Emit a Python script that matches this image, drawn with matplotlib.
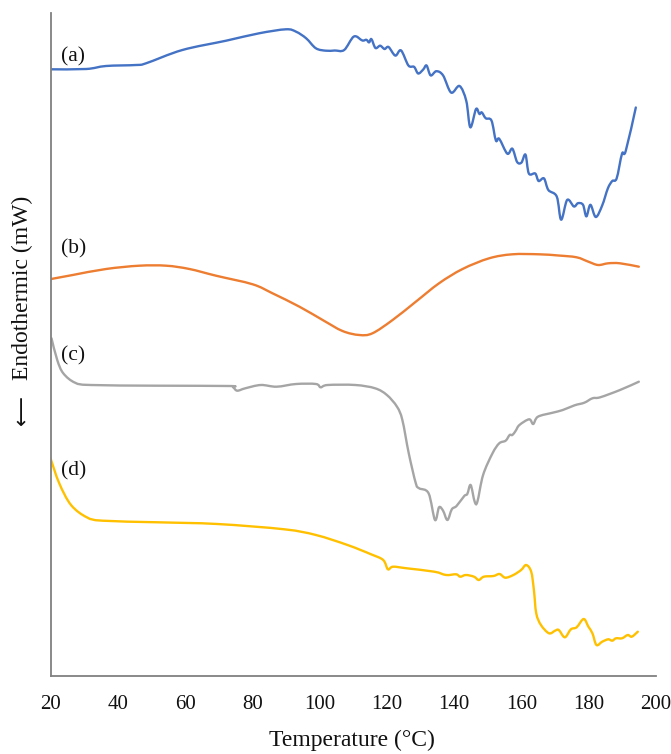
import matplotlib
matplotlib.use("Agg")
import matplotlib.pyplot as plt
import numpy as np
from matplotlib.path import Path
from matplotlib.patches import PathPatch

plt.rcParams['font.family'] = ['Liberation Serif', 'DejaVu Serif']

# DSC traces (stacked, arbitrary offsets in mW), temperature in °C
temp_a = [20, 30.6, 36.5, 45.4, 48.4, 59.2, 72.2, 82, 90, 93, 96, 98.9, 101.9, 104.5, 107.3,
          110.2, 112.7, 113.9, 114.7, 115.4, 116.6, 118, 119.3, 120.5, 122.5, 124.2, 126.4,
          128.1, 129.3, 130.8, 131.8, 133, 134.7, 136.7, 139.1, 141.6, 143.6, 144.8, 146.5,
          147.5, 148.2, 149.4, 151.1, 152.4, 153.4, 155.8, 157.3, 158.7, 160, 161.2, 162.2,
          164.1, 165.1, 166.7, 168, 170.5, 171.8, 173.6, 175.6, 176.8, 178.3, 179.3, 180.5,
          182.1, 184, 185.7, 187, 188.3, 189.9, 191, 194]
heat_a = [606.7, 607, 610, 611, 612.7, 626, 635.3, 642.7, 646.7, 644.3, 637.7, 627.7, 625.3,
          625.5, 626, 639.5, 635.5, 636.2, 633.6, 636.9, 628, 630.3, 627, 629, 620.4, 625.6,
          610.5, 609.1, 602.5, 606.5, 610.5, 600.6, 604.8, 600.6, 583.4, 590, 575.1, 548.7,
          567, 562, 563.6, 557.7, 555.4, 535.5, 537.2, 522.3, 527.3, 514.1, 513.4, 521.4,
          502.5, 502.5, 495, 497.6, 486, 479.4, 456.3, 476.1, 469.5, 472.8, 471.2, 459.6,
          471.2, 459, 470.5, 487.7, 495, 497.6, 522.3, 525, 568.5]

temp_b = [20.2, 26.6, 36.5, 46.4, 54.4, 61.3, 69.2, 80.1, 86, 94, 100.9, 106.8, 111.8, 115.7,
          121.7, 128.6, 135.5, 142.5, 150.4, 157.3, 165.2, 171, 176.4, 179.9, 182.8, 185.8,
          189.3, 194.9]
heat_b = [397, 401, 407, 410.3, 410.3, 407, 400.3, 391.7, 382.7, 369.3, 356, 345, 341, 342.7,
          356, 374.3, 392.7, 407, 417.7, 421.7, 421.7, 420.5, 418.7, 414.3, 411, 412.7, 412.7,
          409.3]

temp_c = [20.3, 22, 23.8, 27.3, 32, 52, 73.1, 74.3, 75.5, 77.9, 82.5, 87.2, 93, 98.9, 100.3,
          102.4, 110.6, 116.5, 120, 123, 124.6, 126.5, 128.6, 129.6, 132.4, 134.3, 135.5,
          136.7, 138, 139.3, 140.7, 143, 143.9, 144.9, 146.1, 146.9, 148.6, 151.4, 153.4,
          155.3, 156.5, 157.3, 158.3, 159.4, 162.3, 163.5, 164.9, 169.3, 172.3, 175.8,
          178.7, 181.1, 183.4, 189.3, 194.9]
heat_c = [337.7, 316, 302.7, 293.3, 291, 290.3, 290, 288.7, 285.3, 287.7, 291, 289.3, 292,
          292, 288.7, 291, 291, 287.7, 281, 269.3, 256, 222.7, 192.7, 187.7, 182.7, 156,
          168.7, 165.3, 156, 166.7, 170, 180, 182, 191, 174.3, 174.3, 201, 222.7, 232.7,
          235.3, 241, 241, 245.3, 251, 256.7, 252, 259.3, 263.3, 266, 270.7, 273.3, 277.7,
          278.7, 286, 294.3]

temp_d = [20, 22.6, 26.1, 30.8, 35.5, 52, 69.6, 89.5, 98.9, 108.3, 115.3, 118.9, 120.3,
          121.8, 125.9, 134.1, 137.6, 140.6, 141.8, 143.5, 145.9, 147.3, 148.8, 151.7, 153.5,
          155.2, 157.6, 159.9, 161.4, 162.9, 163.7, 164.4, 165.8, 168.2, 170, 171.1, 172.9,
          174.7, 176.4, 178.5, 179.9, 181.1, 182.3, 184, 185.8, 187, 188.1, 189.9, 191.6,
          192.8, 194.6]
heat_d = [217.7, 192.7, 171, 158.7, 155.3, 153.7, 152, 146.7, 141, 131, 121.7, 116, 106.7,
          109.3, 107.7, 104.3, 101, 101.7, 99.3, 101, 99.3, 96, 99.3, 100, 102, 98.3, 101,
          106, 111, 104.3, 86, 62.7, 51, 42.7, 45.3, 46, 38.7, 46.7, 48.7, 57, 49.3, 42.7,
          31, 34.3, 36.7, 35.3, 37.7, 37.7, 41, 39.3, 44.3]

labels = ['(a)', '(b)', '(c)', '(d)']
label_heights = [619, 427, 320, 205]
colors = ['#4472C4', '#ED7D31', '#A5A5A5', '#FFC000']
x_ticks = [20, 40, 60, 80, 100, 120, 140, 160, 180, 200]


def smooth_curve(x, y):
    """Smoothed line through every point (Catmull-Rom segments as cubic Beziers)."""
    p = np.column_stack([x, y]).astype(float)
    n = len(p)
    verts = [p[0]]
    codes = [Path.MOVETO]
    for i in range(n - 1):
        p0 = p[i - 1] if i > 0 else p[i]
        p1, p2 = p[i], p[i + 1]
        p3 = p[i + 2] if i + 2 < n else p[i + 1]
        verts += [p1 + (p2 - p0) / 6.0, p2 - (p3 - p1) / 6.0, p2]
        codes += [Path.CURVE4] * 3
    return Path(verts, codes)


fig = plt.figure(figsize=(6.71, 7.54), dpi=100)
ax = fig.add_axes([50.5 / 671, 1 - 676 / 754, (656 - 50.5) / 671, (676 - 13) / 754])

series = [(temp_a, heat_a), (temp_b, heat_b), (temp_c, heat_c), (temp_d, heat_d)]
for (t, h), c in zip(series, colors):
    ax.add_patch(PathPatch(smooth_curve(t, h), facecolor='none', edgecolor=c, lw=1.7,
                           joinstyle='round', capstyle='round'))

for lab, yv in zip(labels, label_heights):
    ax.text(23.2, yv, lab, fontsize=15.5, ha='left', va='center', color='#111111')

ax.set_xlim(20, 200)
ax.set_ylim(0, 663)
ax.set_xticks(x_ticks)
ax.set_yticks([])
ax.tick_params(axis='x', length=0, pad=14, labelsize=15, colors='#111111')

for side in ['top', 'right']:
    ax.spines[side].set_visible(False)
for side in ['left', 'bottom']:
    ax.spines[side].set_color('#808080')
    ax.spines[side].set_linewidth(1.3)

fig.text(352 / 671, 1 - 740 / 754, 'Temperature (°C)', fontsize=17,
         ha='center', va='center', color='#111111')
fig.text(22 / 671, 1 - 288 / 754, 'Endothermic (mW)', fontsize=17, rotation=90,
         ha='center', va='center', color='#111111')
fig.text(22 / 671, 1 - 410 / 754, '⟵', fontsize=15, rotation=90, family='DejaVu Sans',
         ha='center', va='center', color='#111111')

fig.savefig('out.png', dpi=100, facecolor='white')
